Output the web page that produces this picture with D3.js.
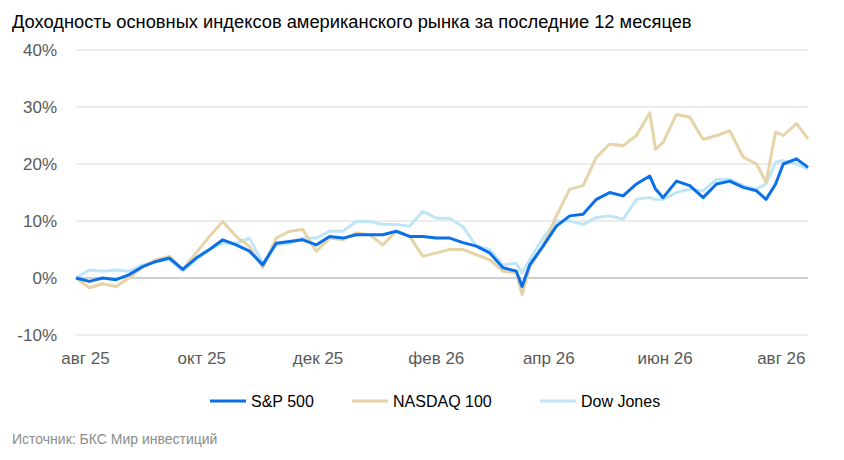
<!DOCTYPE html>
<html><head><meta charset="utf-8">
<script src="https://cdn.jsdelivr.net/npm/d3@7"></script>
<style>body{margin:0;background:#fff;font-family:Arial,"Liberation Sans",sans-serif}</style>
</head><body>
<svg width="844" height="460"></svg>
<script>
const dates = ["2025-07-27","2025-08-03","2025-08-10","2025-08-17","2025-08-24","2025-08-31","2025-09-07","2025-09-14","2025-09-21","2025-09-28","2025-10-05","2025-10-12","2025-10-19","2025-10-26","2025-11-02","2025-11-09","2025-11-16","2025-11-23","2025-11-30","2025-12-07","2025-12-14","2025-12-21","2025-12-28","2026-01-04","2026-01-11","2026-01-18","2026-01-25","2026-02-01","2026-02-08","2026-02-15","2026-02-22","2026-03-01","2026-03-08","2026-03-15","2026-03-18","2026-03-22","2026-03-29","2026-04-05","2026-04-12","2026-04-19","2026-04-26","2026-05-03","2026-05-10","2026-05-17","2026-05-24","2026-05-27","2026-05-31","2026-06-07","2026-06-14","2026-06-21","2026-06-28","2026-07-05","2026-07-12","2026-07-19","2026-07-24","2026-07-29","2026-08-02","2026-08-09","2026-08-15"];
const sp500 = [0,-0.6,0,-0.3,0.6,2,2.9,3.5,1.5,3.5,5,6.7,5.8,4.7,2.3,6.1,6.4,6.7,5.8,7.3,7,7.6,7.6,7.6,8.2,7.3,7.3,7,7,6.2,5.6,4.4,1.8,1.2,-1.5,2.3,5.6,9.1,10.9,11.2,13.8,15,14.4,16.5,17.9,15.6,14.1,17,16.2,14.1,16.5,17,15.9,15.3,13.8,16.5,20,20.9,19.4];
const nasdaq = [0,-1.7,-1,-1.5,0,2,3.2,3.8,1.5,4.4,7.3,9.9,7.3,5.5,1.8,7,8.2,8.5,4.7,7,6.7,7.9,7.6,5.8,8.2,7.3,3.8,4.4,5,5,4.1,3.2,1.2,0.9,-2.9,1.8,5.6,10.9,15.6,16.2,21.2,23.5,23.2,25,29,22.6,23.8,28.7,28.2,24.3,25,25.8,21.2,20,16.8,25.6,25,27.1,24.4];
const dow = [0,1.4,1.2,1.4,1.2,2.3,2.9,3.2,1.2,3.2,5,6.1,6.1,7,2.6,5.8,6.1,7,7,8.2,8.2,9.9,9.9,9.4,9.4,9.1,11.7,10.5,10.5,9,5.6,5,2.3,2.6,0.9,3.2,7,10,10,9.4,10.6,10.9,10.3,13.8,14.1,13.8,13.8,15,15.6,15.3,17.3,17.3,16.2,15.6,16.5,20.3,20.6,20,19.1];
const yTicks = [-10,0,10,20,30,40];
const xTicks = ["2025-08-01","2025-10-01","2025-12-01","2026-02-01","2026-04-01","2026-06-01","2026-08-01"];
const monthNames = ["янв","фев","мар","апр","май","июн","июл","авг","сен","окт","ноя","дек"];

const svg = d3.select("svg");
const parse = d3.timeParse("%Y-%m-%d");
const x = d3.scaleTime().domain([parse("2025-07-27"), parse("2026-08-15")]).range([76, 808]);
const y = d3.scaleLinear().domain([-10, 40]).range([335, 50]);
const grey = "#595959";

svg.append("text").attr("x", 12).attr("y", 28).attr("font-size", 18.3).attr("fill", "#000")
  .text("Доходность основных индексов американского рынка за последние 12 месяцев");

svg.append("g").selectAll("line").data(yTicks).join("line")
  .attr("x1", 76).attr("x2", 808).attr("y1", d => y(d)).attr("y2", d => y(d))
  .attr("stroke", d => d === 0 ? "#cfcfcf" : "#d9d9d9").attr("stroke-width", d => d === 0 ? 2 : 1);

svg.append("g").selectAll("text").data(yTicks).join("text")
  .attr("x", 57).attr("y", d => y(d) + 6).attr("text-anchor", "end")
  .attr("font-size", 17).attr("fill", grey).text(d => d + "%");

svg.append("g").selectAll("text").data(xTicks).join("text")
  .attr("x", d => x(parse(d))).attr("y", 364).attr("text-anchor", "middle")
  .attr("font-size", 17).attr("fill", grey)
  .text(d => { const t = parse(d); return monthNames[t.getMonth()] + " " + String(t.getFullYear()).slice(2); });

const series = [
  {name: "Dow Jones", values: dow, color: "#bfe6f6"},
  {name: "NASDAQ 100", values: nasdaq, color: "#e6d3a7"},
  {name: "S&P 500", values: sp500, color: "#0b6fe8"}
];
const line = d3.line().x((d, i) => x(parse(dates[i]))).y(d => y(d));
svg.append("g").selectAll("path").data(series).join("path")
  .attr("d", s => line(s.values)).attr("fill", "none")
  .attr("stroke", s => s.color).attr("stroke-width", 3).attr("stroke-linejoin", "round");

const legend = [
  {name: "S&P 500", color: "#0b6fe8", x: 210},
  {name: "NASDAQ 100", color: "#e6d3a7", x: 352},
  {name: "Dow Jones", color: "#bfe6f6", x: 540}
];
const lg = svg.append("g").selectAll("g").data(legend).join("g");
lg.append("line").attr("x1", d => d.x).attr("x2", d => d.x + 36).attr("y1", 401).attr("y2", 401)
  .attr("stroke", d => d.color).attr("stroke-width", 3);
lg.append("text").attr("x", d => d.x + 41).attr("y", 407).attr("font-size", 16).attr("fill", "#000").text(d => d.name);

svg.append("text").attr("x", 12).attr("y", 444).attr("font-size", 14).attr("fill", "#8c8c8c")
  .text("Источник: БКС Мир инвестиций");
</script>
</body></html>
